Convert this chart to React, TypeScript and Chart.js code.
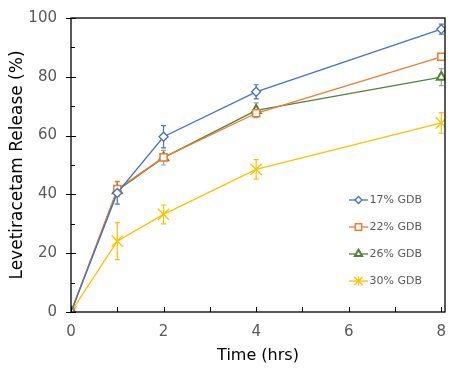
import React, { useEffect, useRef } from "react";
import { Chart, registerables } from "chart.js";
import { drawPoint } from "chart.js/helpers";

Chart.register(...registerables);

const times = [0, 1, 2, 4, 8];
const seriesNames = ["17% GDB", "22% GDB", "26% GDB", "30% GDB"];
const gdb17 = [0, 40.5, 59.6, 74.9, 96.2];
const gdb22 = [0, 41.8, 52.6, 67.6, 86.8];
const gdb26 = [0, 41.3, 52.5, 68.6, 79.9];
const gdb30 = [0, 24.1, 33.2, 48.5, 64.3];
const err17 = [0, 3.8, 3.8, 2.4, 1.7];
const err22 = [0, 2.6, 0.8, 0.8, 0.5];
const err26 = [0, 1.5, 2.5, 2.5, 2.9];
const err30 = [0, 6.3, 3.2, 3.3, 3.5];
const yTicks = [0, 20, 40, 60, 80, 100];
const xTicks = [0, 1, 2, 3, 4, 5, 6, 7, 8];

const colors = ["#4472C4", "#ED7D31", "#548235", "#FFC000"];
const errColors = ["#4472C4", "#ED7D31", "#A0A0A0", "#FFC000"];
const styles = ["rectRot", "rect", "triangle", "crossRot"];
const radii = [4.5, 5, 5.2, 8];
const widths = [1.3, 1.5, 2, 1.3];
const errs = [err17, err22, err26, err30];

const decor = {
  id: "decor",
  beforeDatasetsDraw(chart: any) {
    const { ctx, scales } = chart;
    const x = scales.x, y = scales.y;
    ctx.save();
    chart.data.datasets.forEach((ds: any, i: number) => {
      ctx.strokeStyle = errColors[i];
      ctx.lineWidth = 1.2;
      ds.data.forEach((p: any, j: number) => {
        const e = errs[i][j];
        if (!e) return;
        const px = x.getPixelForValue(p.x);
        const top = y.getPixelForValue(p.y + e);
        const bot = y.getPixelForValue(p.y - e);
        ctx.beginPath();
        ctx.moveTo(px, top); ctx.lineTo(px, bot);
        ctx.moveTo(px - 2.5, top); ctx.lineTo(px + 2.5, top);
        ctx.moveTo(px - 2.5, bot); ctx.lineTo(px + 2.5, bot);
        ctx.stroke();
      });
    });
    ctx.restore();
  },
  afterDraw(chart: any) {
    const { ctx, chartArea: a, scales } = chart;
    const x = scales.x, y = scales.y;
    ctx.save();
    ctx.strokeStyle = "#000";
    ctx.lineWidth = 1.3;
    ctx.strokeRect(a.left, a.top, a.right - a.left, a.bottom - a.top);
    ctx.lineWidth = 1;
    ctx.beginPath();
    for (let v = 0; v <= 100; v += 10) {
      const py = Math.round(y.getPixelForValue(v)) + 0.5;
      if (v % 20 === 0) { ctx.moveTo(a.left - 5, py); ctx.lineTo(a.left + 5, py); }
      else { ctx.moveTo(a.left, py); ctx.lineTo(a.left + 4, py); }
    }
    xTicks.forEach((v) => {
      const px = Math.round(x.getPixelForValue(v)) + 0.5;
      ctx.moveTo(px, a.bottom); ctx.lineTo(px, a.bottom - 5);
    });
    ctx.stroke();
    const lx = 358.5;
    const ly = [200, 227, 254, 281];
    ctx.font = "11px 'DejaVu Sans'";
    ctx.textBaseline = "middle";
    ctx.textAlign = "left";
    seriesNames.forEach((n, i) => {
      ctx.strokeStyle = colors[i];
      ctx.lineWidth = 1.3;
      ctx.beginPath();
      ctx.moveTo(lx - 9.5, ly[i]); ctx.lineTo(lx + 9.5, ly[i]);
      ctx.stroke();
      const r = [3.5, 4.5, 4.2, 6][i];
      ctx.fillStyle = "#fff";
      ctx.lineWidth = widths[i];
      drawPoint(ctx, { pointStyle: styles[i], radius: r, rotation: 0, borderWidth: widths[i] } as any, lx, ly[i]);
      if (i === 3) {
        ctx.beginPath();
        ctx.moveTo(lx, ly[i] - 4.5); ctx.lineTo(lx, ly[i] + 4.5);
        ctx.stroke();
      }
      ctx.fillStyle = "#595959";
      ctx.fillText(n, lx + 11, ly[i] + 0.5);
    });
    ctx.restore();
  },
};

export default function App() {
  const ref = useRef<HTMLCanvasElement>(null);
  useEffect(() => {
    const values = [gdb17, gdb22, gdb26, gdb30];
    const chart = new Chart(ref.current!, {
      type: "scatter",
      data: {
        datasets: values.map((vals, i) => ({
          label: seriesNames[i],
          data: times.map((t, j) => ({ x: t, y: vals[j] })),
          showLine: true,
          borderColor: colors[i],
          backgroundColor: "#fff",
          borderWidth: 1.3,
          pointStyle: styles[i] as any,
          pointRadius: radii[i],
          pointBorderWidth: widths[i],
          pointBorderColor: colors[i],
          pointBackgroundColor: "#fff",
        })),
      },
      plugins: [decor],
      options: {
        responsive: false,
        animation: false,
        layout: { padding: { left: 0, right: 18, top: 18, bottom: 0 } },
        plugins: { legend: { display: false }, tooltip: { enabled: false } },
        scales: {
          x: {
            type: "linear",
            min: 0,
            max: 8.08,
            afterBuildTicks: (s: any) => { s.ticks = xTicks.map((v) => ({ value: v })); },
            afterFit: (s: any) => { s.height = 58; s.paddingLeft = 0; s.paddingRight = 0; },
            grid: { display: false, drawTicks: false },
            border: { display: false },
            ticks: {
              padding: 11,
              color: "#595959",
              font: { family: "DejaVu Sans", size: 15 },
              callback: (v: any) => (Number(v) % 2 === 0 ? String(v) : ""),
              maxRotation: 0,
              autoSkip: false,
            },
            title: {
              display: true,
              text: "Time (hrs)",
              color: "#000",
              font: { family: "DejaVu Sans", size: 16 },
              padding: { top: 0, bottom: 5 },
            },
          },
          y: {
            type: "linear",
            min: 0,
            max: 100,
            afterBuildTicks: (s: any) => { s.ticks = yTicks.map((v) => ({ value: v })); },
            afterFit: (s: any) => { s.width = 71; s.paddingTop = 0; s.paddingBottom = 0; },
            grid: { display: false, drawTicks: false },
            border: { display: false },
            ticks: {
              padding: 14,
              color: "#595959",
              font: { family: "DejaVu Sans", size: 15 },
            },
            title: {
              display: true,
              text: "Levetiracetam Release (%)",
              color: "#000",
              font: { family: "DejaVu Sans", size: 17 },
              padding: { top: 7, bottom: 0 },
            },
          },
        },
      },
    });
    return () => chart.destroy();
  }, []);
  return (
    <div style={{ position: "fixed", left: 0, top: 0, width: 463, height: 370, background: "#fff" }}>
      <canvas ref={ref} width={463} height={370} />
    </div>
  );
}
